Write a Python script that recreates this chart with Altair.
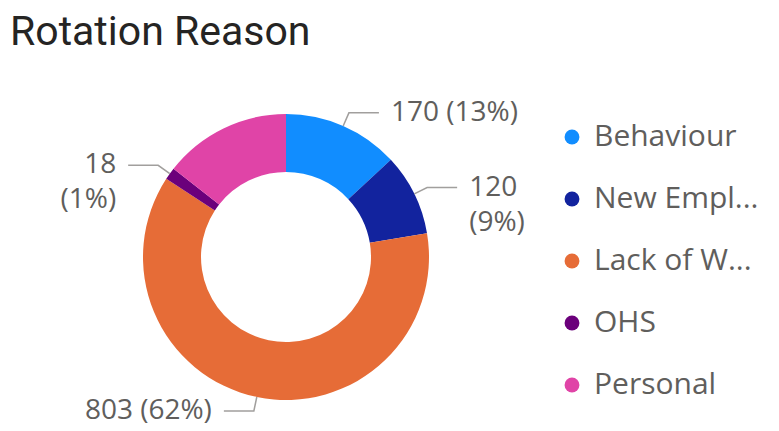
import numpy as np
import pandas as pd
import altair as alt

# ---- data ----
categories = ["Behaviour", "New Empl...", "Lack of W...", "OHS", "Personal"]
values = [170, 120, 803, 18, 187]
colors = ["#118DFF", "#12239E", "#E66C37", "#6B007B", "#E044A7"]
show_label = [True, True, True, True, False]
wrap_label = [False, True, False, True, False]

# ---- layout / style ----
W, H = 556, 338
OUTER, INNER = 143, 85
XD, YD = W / 2 / OUTER, H / 2 / OUTER
ELBOW_R = 1.10
HSEG = 30 / OUTER
GAP = 12 / OUTER
TEXT_COLOR = "#605E5C"
LINE_COLOR = "#A19F9D"
FONT = "Open Sans"

total = sum(values)
vals = np.array(values, dtype=float)
start = np.cumsum(vals) - vals
mid = (start + vals / 2) / total * 2 * np.pi

arc_df = pd.DataFrame({"category": categories, "value": values, "idx": range(len(values))})

line_rows, text_rows = [], []
for i, cat in enumerate(categories):
    if not show_label[i]:
        continue
    s, c = np.sin(mid[i]), np.cos(mid[i])
    side = 1 if s >= 0 else -1
    ex, ey = ELBOW_R * s, ELBOW_R * c
    line_rows += [
        {"category": cat, "pt": 0, "x": s, "y": c},
        {"category": cat, "pt": 1, "x": ex, "y": ey},
        {"category": cat, "pt": 2, "x": ex + side * HSEG, "y": ey},
    ]
    pct = round(values[i] / total * 100)
    sep = "\n" if wrap_label[i] else " "
    text_rows.append({
        "category": cat,
        "x": ex + side * (HSEG + GAP),
        "y": ey,
        "label": f"{values[i]}{sep}({pct}%)",
        "side": "right" if side > 0 else "left",
    })

line_df = pd.DataFrame(line_rows)
text_df = pd.DataFrame(text_rows)

xs = alt.Scale(domain=[-XD, XD], nice=False, zero=False)
ys = alt.Scale(domain=[-YD, YD], nice=False, zero=False)

arc = alt.Chart(arc_df).mark_arc(innerRadius=INNER, outerRadius=OUTER).encode(
    theta=alt.Theta("value:Q", stack=True),
    color=alt.Color(
        "category:N",
        scale=alt.Scale(domain=categories, range=colors),
        sort=categories,
        legend=alt.Legend(
            title=None,
            orient="none",
            legendX=549,
            legendY=34,
            symbolType="circle",
            symbolSize=220,
            symbolStrokeWidth=0,
            labelFont=FONT,
            labelFontSize=30,
            labelColor=TEXT_COLOR,
            labelOffset=7,
            labelLimit=300,
            rowPadding=32,
        ),
    ),
    order=alt.Order("idx:Q"),
)

lines = alt.Chart(line_df).mark_line(color=LINE_COLOR, strokeWidth=1.5).encode(
    x=alt.X("x:Q", scale=xs, axis=None),
    y=alt.Y("y:Q", scale=ys, axis=None),
    detail="category:N",
    order="pt:Q",
)

text_right = alt.Chart(text_df).transform_filter("datum.side == 'right'").mark_text(
    align="left", baseline="middle", font=FONT, fontSize=28, color=TEXT_COLOR,
    lineBreak="\n", lineHeight=35,
).encode(
    x=alt.X("x:Q", scale=xs, axis=None),
    y=alt.Y("y:Q", scale=ys, axis=None),
    text="label:N",
)

text_left = alt.Chart(text_df).transform_filter("datum.side == 'left'").mark_text(
    align="right", baseline="middle", font=FONT, fontSize=28, color=TEXT_COLOR,
    lineBreak="\n", lineHeight=35,
).encode(
    x=alt.X("x:Q", scale=xs, axis=None),
    y=alt.Y("y:Q", scale=ys, axis=None),
    text="label:N",
)

chart = alt.layer(arc, lines, text_right, text_left).properties(
    width=W,
    height=H,
    padding={"left": 0, "top": 80, "right": 207, "bottom": 0},
    autosize=alt.AutoSizeParams(type="none"),
    title=alt.TitleParams(
        "Rotation Reason",
        anchor="start",
        frame="group",
        font="Roboto",
        fontSize=41,
        fontWeight="normal",
        color="#252423",
        baseline="alphabetic",
        offset=2,
        dx=2,
    ),
).configure(background="white").configure_view(stroke="transparent", strokeWidth=0)

chart.save("out.html", embed_options={"renderer": "svg", "actions": False})
